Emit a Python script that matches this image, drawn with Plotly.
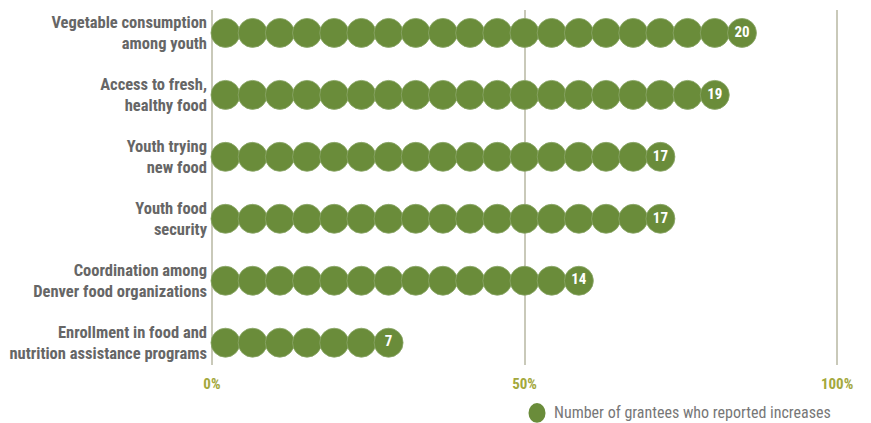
import plotly.graph_objects as go

categories = [
    "Vegetable consumption<br>among youth",
    "Access to fresh,<br>healthy food",
    "Youth trying<br>new food",
    "Youth food<br>security",
    "Coordination among<br>Denver food organizations",
    "Enrollment in food and<br>nutrition assistance programs",
]
counts = [20, 19, 17, 17, 14, 7]
total_grantees = 23
tick_vals = [0, 50, 100]
tick_text = ["0%", "50%", "100%"]
legend_name = "Number of grantees who reported increases"

GREEN = "#6a8c3a"
FONT = "Liberation Sans Narrow, Roboto Condensed, Arial Narrow, Liberation Sans, sans-serif"

step = 100.0 / total_grantees
xs, ys, texts = [], [], []
for row, n in enumerate(counts):
    for k in range(n):
        xs.append((k + 0.5) * step)
        ys.append(row)
        texts.append(str(n) if k == n - 1 else "")

fig = go.Figure()
fig.add_trace(go.Scatter(
    x=xs, y=ys, mode="markers+text", text=texts,
    textposition="middle center",
    textfont=dict(color="white", size=15, family=FONT, weight="bold"),
    marker=dict(color=GREEN, size=29, line=dict(width=0.8, color="#8aa668")),
    name=legend_name, showlegend=False, hoverinfo="skip",
))

# legend key (swatch + label) placed below the plot
fig.add_shape(type="circle", xref="paper", yref="paper",
              x0=0.5064, x1=0.5334, y0=-0.163, y1=-0.107,
              fillcolor=GREEN, line=dict(width=0))
fig.add_annotation(xref="paper", yref="paper", x=0.543, y=-0.135,
                   xanchor="left", yanchor="middle", showarrow=False,
                   text=legend_name,
                   font=dict(family=FONT, size=16, color="#777777"))

fig.update_layout(
    width=871, height=423,
    margin=dict(l=210, r=32, t=10, b=58),
    plot_bgcolor="white", paper_bgcolor="white",
    showlegend=False,
    xaxis=dict(range=[-0.3, 100.3], tickvals=tick_vals, ticktext=tick_text,
               showgrid=True, gridcolor="#c9c9b9", gridwidth=2,
               zeroline=True, zerolinecolor="#c9c9b9", zerolinewidth=2,
               showline=False, ticks="", ticklabelstandoff=8,
               tickfont=dict(family=FONT, size=15, color="#a3a83c", weight="bold")),
    yaxis=dict(range=[5.36, -0.37], tickvals=list(range(len(categories))),
               ticktext=categories, showgrid=False, zeroline=False, ticks="",
               ticklabelstandoff=2,
               tickfont=dict(family=FONT, size=16.5, color="#666666", weight="bold")),
)

fig.write_html("out.html", config={"displayModeBar": False},
               post_script="document.body.style.margin='0';")
